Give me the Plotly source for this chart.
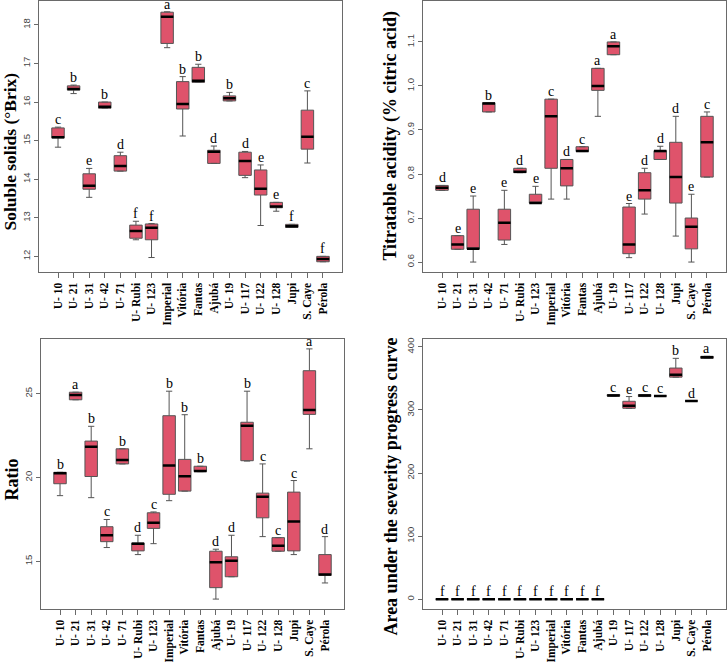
import plotly.graph_objects as go

cultivars = ["U- 10", "U- 21", "U- 31", "U- 42", "U- 71", "U- Rubi", "U- 123", "Imperial",
             "Vitória", "Fantas", "Ajubá", "U- 19", "U- 117", "U- 122", "U- 128", "Jupi",
             "S. Caye", "Pérola"]

# Soluble solids (°Brix)
ss_low = [14.83, 16.22, 13.53, 15.84, 14.21, 12.43, 11.97, 17.41, 15.12, 16.51, 14.41, 16.03, 14.04, 12.80, 13.17, 12.75, 14.42, 11.86]
ss_q1 = [15.07, 16.31, 13.74, 15.84, 14.21, 12.47, 12.43, 17.52, 15.82, 16.51, 14.41, 16.03, 14.10, 13.59, 13.26, 12.75, 14.78, 11.86]
ss_med = [15.09, 16.34, 13.83, 15.88, 14.34, 12.66, 12.74, 18.21, 15.95, 16.55, 14.71, 16.10, 14.47, 13.75, 13.29, 12.78, 15.10, 11.93]
ss_q3 = [15.33, 16.42, 14.14, 16.00, 14.61, 12.81, 12.84, 18.33, 16.53, 16.90, 14.75, 16.16, 14.70, 14.24, 13.40, 12.83, 15.79, 12.00]
ss_up = [15.35, 16.44, 14.28, 16.00, 14.70, 12.91, 12.85, 18.34, 16.66, 16.98, 14.86, 16.25, 14.72, 14.37, 13.40, 12.83, 16.29, 12.00]
ss_letters = ["c", "b", "e", "b", "d", "f", "f", "a", "b", "b", "d", "b", "d", "e", "e", "f", "c", "f"]

# Titratable acidity (% citric acid)
ta_low = [0.763, 0.629, 0.600, 0.941, 0.640, 0.803, 0.734, 0.743, 0.743, 0.851, 0.931, 1.071, 0.610, 0.709, 0.833, 0.659, 0.600, 0.793]
ta_q1 = [0.763, 0.629, 0.630, 0.941, 0.650, 0.803, 0.734, 0.813, 0.773, 0.851, 0.990, 1.071, 0.619, 0.743, 0.833, 0.734, 0.630, 0.793]
ta_med = [0.769, 0.640, 0.630, 0.960, 0.689, 0.805, 0.734, 0.931, 0.813, 0.852, 1.000, 1.090, 0.640, 0.763, 0.852, 0.793, 0.680, 0.872]
ta_q3 = [0.774, 0.660, 0.720, 0.962, 0.720, 0.813, 0.754, 0.970, 0.833, 0.862, 1.040, 1.100, 0.725, 0.803, 0.853, 0.872, 0.700, 0.931]
ta_up = [0.774, 0.660, 0.750, 0.962, 0.763, 0.813, 0.772, 0.970, 0.833, 0.862, 1.040, 1.100, 0.733, 0.813, 0.863, 0.931, 0.754, 0.941]
ta_letters = ["d", "e", "e", "b", "e", "d", "e", "c", "d", "c", "a", "a", "e", "d", "d", "d", "e", "c"]

# Ratio
ra_low = [18.92, 24.63, 18.80, 15.83, 20.81, 15.41, 16.06, 18.62, 19.19, 20.35, 12.76, 14.09, 20.98, 16.48, 15.61, 15.41, 21.71, 13.72]
ra_q1 = [19.63, 24.63, 20.06, 16.18, 20.81, 15.63, 16.97, 19.00, 19.19, 20.35, 13.44, 14.09, 21.00, 17.60, 15.61, 15.63, 23.76, 14.17]
ra_med = [20.26, 24.92, 21.83, 16.56, 21.04, 16.06, 17.30, 20.71, 20.08, 20.39, 14.96, 15.04, 23.09, 18.86, 15.93, 17.38, 24.02, 14.23]
ra_q3 = [20.31, 25.08, 22.17, 17.07, 21.71, 16.10, 17.90, 23.68, 21.08, 20.67, 15.61, 15.28, 23.29, 19.07, 16.42, 19.13, 26.36, 15.41]
ra_up = [20.31, 25.08, 23.05, 17.50, 21.71, 16.56, 17.95, 25.14, 23.74, 20.67, 15.73, 16.56, 25.14, 20.81, 16.42, 19.82, 27.66, 16.48]
ra_letters = ["b", "a", "b", "c", "b", "d", "c", "b", "b", "b", "d", "d", "b", "c", "c", "c", "a", "d"]

# Area under the severity progress curve
au_low = [0, 0, 0, 0, 0, 0, 0, 0, 0, 0, 0, 322.0, 302.7, 321.3, 322.3, 352.1, 314.4, 381.9]
au_q1 = [0, 0, 0, 0, 0, 0, 0, 0, 0, 0, 0, 322.0, 302.7, 321.3, 322.3, 352.1, 314.4, 381.9]
au_med = [0, 0, 0, 0, 0, 0, 0, 0, 0, 0, 0, 323.0, 306.9, 322.9, 322.3, 355.9, 314.4, 383.5]
au_q3 = [0, 0, 0, 0, 0, 0, 0, 0, 0, 0, 0, 324.5, 313.8, 324.5, 322.3, 366.5, 314.4, 385.1]
au_up = [0, 0, 0, 0, 0, 0, 0, 0, 0, 0, 0, 324.5, 321.3, 324.5, 322.3, 381.9, 314.4, 385.1]
au_letters = ["f", "f", "f", "f", "f", "f", "f", "f", "f", "f", "f", "c", "e", "c", "c", "b", "d", "a"]

ss_ticks = [12, 13, 14, 15, 16, 17, 18]
ta_ticks = [0.6, 0.7, 0.8, 0.9, 1.0, 1.1]
ta_ticktext = ["0.6", "0.7", "0.8", "0.9", "1.0", "1.1"]
ra_ticks = [15, 20, 25]
au_ticks = [0, 100, 200, 300, 400]

W, H = 727, 663
FILL = "#DF536B"
BOXLINE = "#555555"
AXCOL = "#6a6a6a"
SERIF = "Liberation Serif, Times New Roman, serif"
SANS = "Liberation Sans, Arial, sans-serif"

positions = list(range(1, len(cultivars) + 1))

panels = [
    ("", ss_low, ss_q1, ss_med, ss_q3, ss_up, ss_letters, (39, 342), (0, 272), (11.59, 18.62), ss_ticks, [str(t) for t in ss_ticks]),
    ("2", ta_low, ta_q1, ta_med, ta_q3, ta_up, ta_letters, (423, 726), (0, 272), (0.577, 1.193), ta_ticks, ta_ticktext),
    ("3", ra_low, ra_q1, ra_med, ra_q3, ra_up, ra_letters, (41, 344), (339, 610), (12.16, 28.25), ra_ticks, [str(t) for t in ra_ticks]),
    ("4", au_low, au_q1, au_med, au_q3, au_up, au_letters, (423, 726), (339, 610), (-15.8, 412.6), au_ticks, [str(t) for t in au_ticks]),
]

fig = go.Figure()
annotations = []
layout = {}
BW = 0.8

for suf, low, q1, med, q3, up, letters, xpx, ypx, yr, yt, ytt in panels:
    xa = "x" + suf
    ya = "y" + suf
    fig.add_trace(go.Box(
        x=positions, q1=q1, median=med, q3=q3, lowerfence=low, upperfence=up,
        width=BW, whiskerwidth=0.5, fillcolor=FILL,
        line=dict(color=BOXLINE, width=1), boxpoints=False,
        xaxis=xa, yaxis=ya, showlegend=False, hoverinfo="skip",
    ))
    mx, my = [], []
    for p, m in zip(positions, med):
        mx += [p - BW / 2, p + BW / 2, None]
        my += [m, m, None]
    fig.add_trace(go.Scatter(
        x=mx, y=my, mode="lines", line=dict(color="black", width=2.5),
        xaxis=xa, yaxis=ya, showlegend=False, hoverinfo="skip",
    ))
    for p, u, L in zip(positions, up, letters):
        annotations.append(dict(
            x=p, y=u, xref=xa, yref=ya, text=L, showarrow=False,
            yanchor="bottom", xanchor="center", yshift=-1, borderpad=0,
            font=dict(family=SERIF, size=14, color="black"),
        ))
    xkey = "xaxis" + suf
    ykey = "yaxis" + suf
    layout[xkey] = dict(
        domain=[xpx[0] / W, xpx[1] / W], anchor=ya, range=[-0.22, 19.22],
        tickmode="array", tickvals=positions, ticktext=cultivars, tickangle=-90,
        ticks="outside", ticklen=5, tickcolor=AXCOL, tickwidth=1,
        showline=True, linecolor=AXCOL, linewidth=1, mirror=True,
        showgrid=False, zeroline=False,
        tickfont=dict(family=SERIF, size=11.5, color="black", weight="bold"),
    )
    layout[ykey] = dict(
        domain=[1 - ypx[1] / H, 1 - ypx[0] / H], anchor=xa, range=list(yr),
        tickmode="array", tickvals=yt, ticktext=ytt, tickangle=-90,
        ticks="outside", ticklen=4, tickcolor=AXCOL, tickwidth=1,
        showline=True, linecolor=AXCOL, linewidth=1, mirror=True,
        showgrid=False, zeroline=False,
        tickfont=dict(family=SANS, size=9.5, color="#444444"),
    )

titles = [
    ("Soluble solids (°Brix)", 10, 151, 17.5),
    ("Titratable acidity (% citric acid)", 391, 135, 18),
    ("Ratio", 12, 480, 18),
    ("Area under the severity progress curve", 391, 487, 18),
]
for t, px, py, fs in titles:
    annotations.append(dict(
        x=px / W, y=1 - py / H, xref="paper", yref="paper", text="<b>" + t + "</b>",
        showarrow=False, textangle=-90, xanchor="center", yanchor="middle",
        font=dict(family=SERIF, size=fs, color="black"),
    ))

fig.update_layout(
    width=W, height=H, margin=dict(l=0, r=0, t=0, b=0),
    paper_bgcolor="white", plot_bgcolor="white",
    annotations=annotations, **layout,
)

fig.write_html("out.html")
